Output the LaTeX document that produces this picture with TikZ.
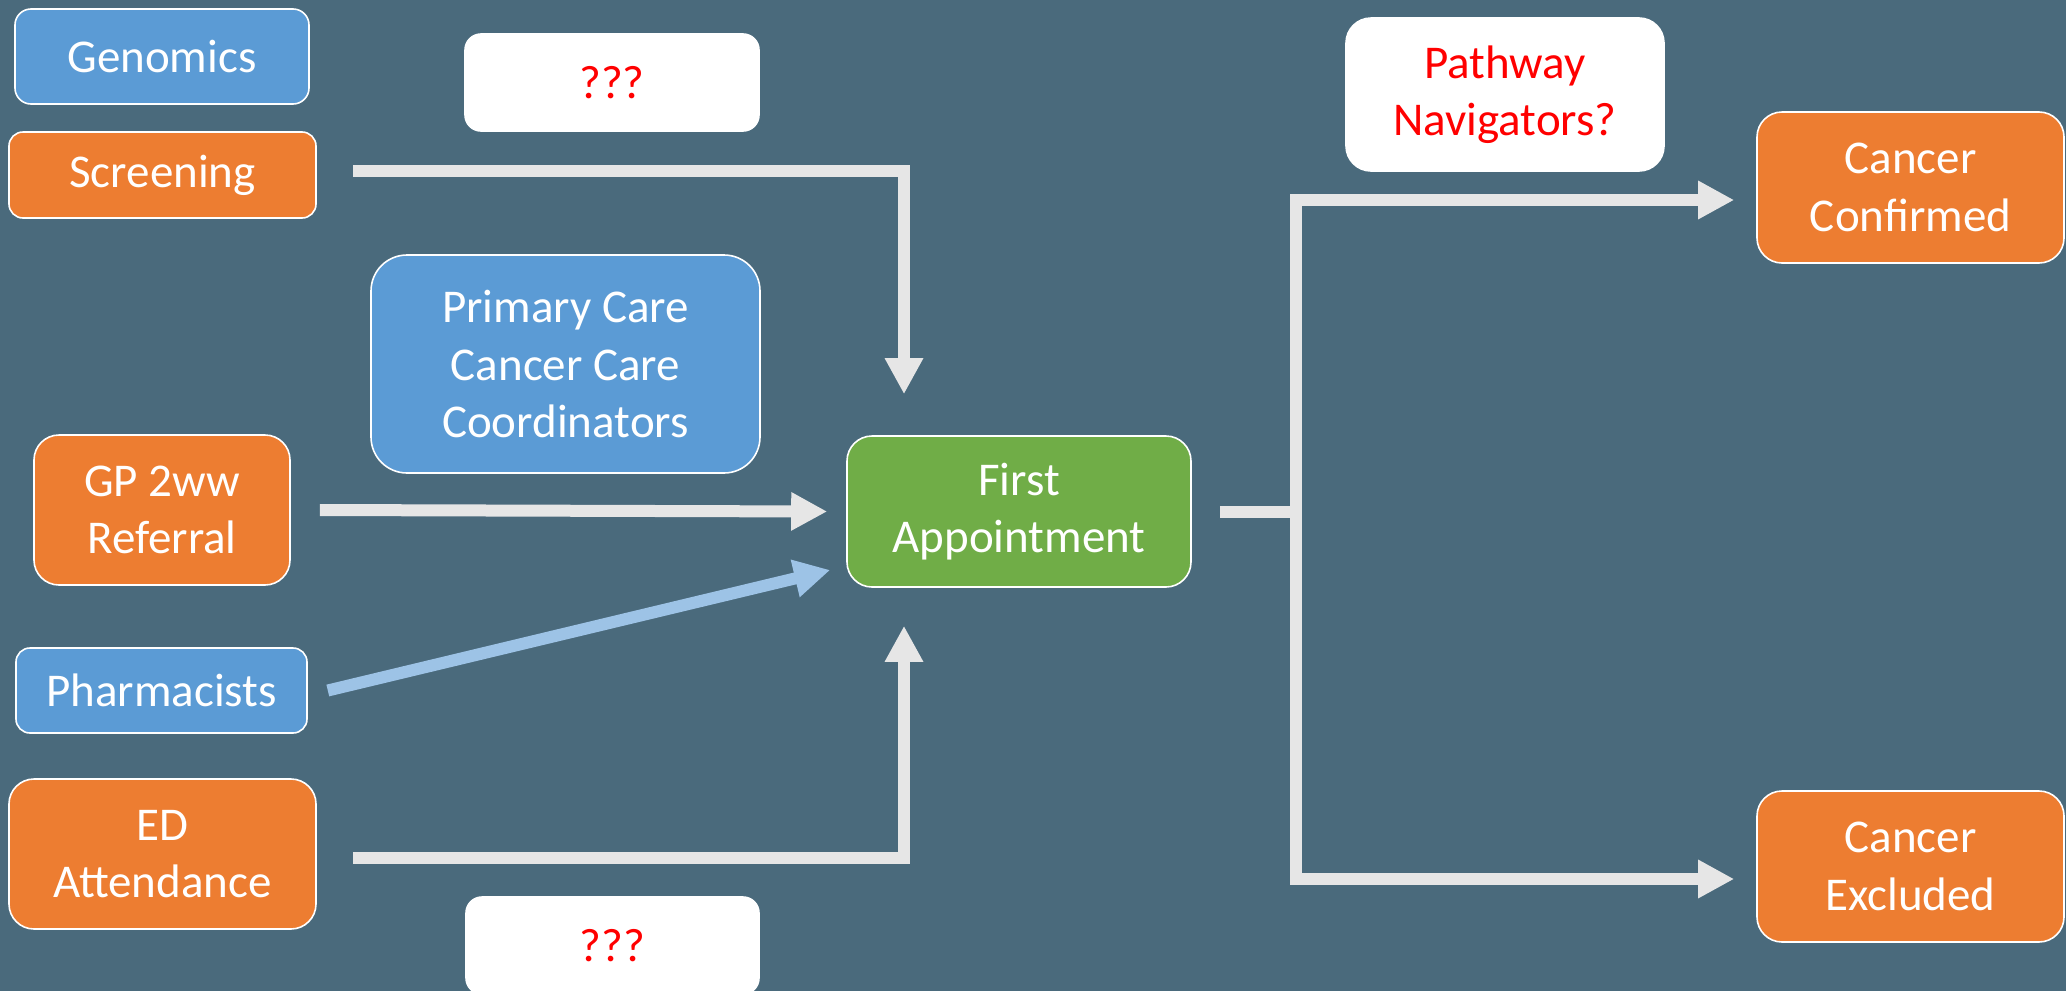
\documentclass[tikz,border=0pt]{standalone}
\usepackage{fontspec}
\setmainfont{Carlito}
\usetikzlibrary{arrows.meta}
\definecolor{bg}{HTML}{4A6A7C}
\definecolor{orangeb}{HTML}{ED7D31}
\definecolor{blueb}{HTML}{5B9BD5}
\definecolor{greenb}{HTML}{70AD47}
\definecolor{arrowgray}{HTML}{E6E6E6}
\definecolor{arrowblue}{HTML}{9DC3E6}
\definecolor{redtxt}{HTML}{FF0000}
\tikzset{
  box/.style={draw=white, line width=1.6pt, inner sep=0pt, align=center,
    text=white, font=\fontsize{47}{57.5}\selectfont},
  orangebox/.style={box, fill=orangeb},
  bluebox/.style={box, fill=blueb},
  greenbox/.style={box, fill=greenb},
  whitebox/.style={box, fill=white, text=redtxt},
  flow/.style={draw=arrowgray, line width=12pt, line join=miter,
    -{Triangle[length=36pt,width=36pt]}},
  flowblue/.style={flow, draw=arrowblue, -{Triangle[length=36pt,width=36pt]}},
  plainline/.style={draw=arrowgray, line width=12pt, line join=miter}
}
\begin{document}
\begin{tikzpicture}[x=1pt,y=-1pt]
\useasboundingbox (0,0) rectangle (2066,991);
\fill[bg] (0,0) rectangle (2066,991);
\begin{scope}
\clip (0,0) rectangle (2066,991);
% left column
\node[bluebox, rounded corners=16pt, minimum width=294pt, minimum height=95pt] (gen) at (162,56.5) {Genomics};
\node[orangebox, rounded corners=14pt, minimum width=307pt, minimum height=86pt] (scr) at (162.5,175) {Screening};
\node[orangebox, rounded corners=25pt, minimum width=256pt, minimum height=150pt] (gp) at (162,510) {GP 2ww\\Referral};
\node[bluebox, rounded corners=14pt, minimum width=291pt, minimum height=85pt] (ph) at (161.5,690.5) {Pharmacists};
\node[orangebox, rounded corners=25pt, minimum width=307pt, minimum height=150pt] (ed) at (162.5,854) {ED\\Attendance};
% middle
\node[whitebox, rounded corners=16pt, minimum width=294pt, minimum height=97pt] (q1) at (612,82.5) {???};
\node[bluebox, rounded corners=36pt, minimum width=389pt, minimum height=218pt] (pcc) at (565.5,364) {Primary Care\\Cancer Care\\Coordinators};
\node[whitebox, rounded corners=16pt, minimum width=293pt, minimum height=97pt] (q2) at (612.5,945.5) {???};
\node[greenbox, rounded corners=25pt, minimum width=344pt, minimum height=151pt] (first) at (1019,511.5) {First\\Appointment};
% right
\node[whitebox, rounded corners=25pt, minimum width=318pt, minimum height=153pt] (path) at (1505,94.5) {Pathway\\Navigators?};
\node[orangebox, rounded corners=25pt, minimum width=307pt, minimum height=151pt] (cc) at (1910.5,187.5) {Cancer\\Confirmed};
\node[orangebox, rounded corners=25pt, minimum width=307pt, minimum height=151pt] (ce) at (1910.5,866.5) {Cancer\\Excluded};
\end{scope}
\coordinate (split) at (1296,511.5);
% connectors
\draw[flow] ([xshift=36pt,yshift=4pt]scr.east) -| ([xshift=-115pt,yshift=41pt]first.north);
\draw[flow] ([xshift=29pt]gp.east) -- ([xshift=-19pt]first.west);
\draw[flowblue] ([xshift=20pt]ph.east) -- ([xshift=-16pt,yshift=-58.5pt]first.west);
\draw[flow] ([xshift=36pt,yshift=-4pt]ed.east) -| ([xshift=-115pt,yshift=-38pt]first.south);
\draw[plainline] ([xshift=28pt]first.east) -- ([xshift=6pt]split);
\draw[flow] (split) |- ([xshift=-22pt,yshift=-12.5pt]cc.west);
\draw[flow] (split) |- ([xshift=-22pt,yshift=-12.5pt]ce.west);
\end{tikzpicture}
\end{document}
